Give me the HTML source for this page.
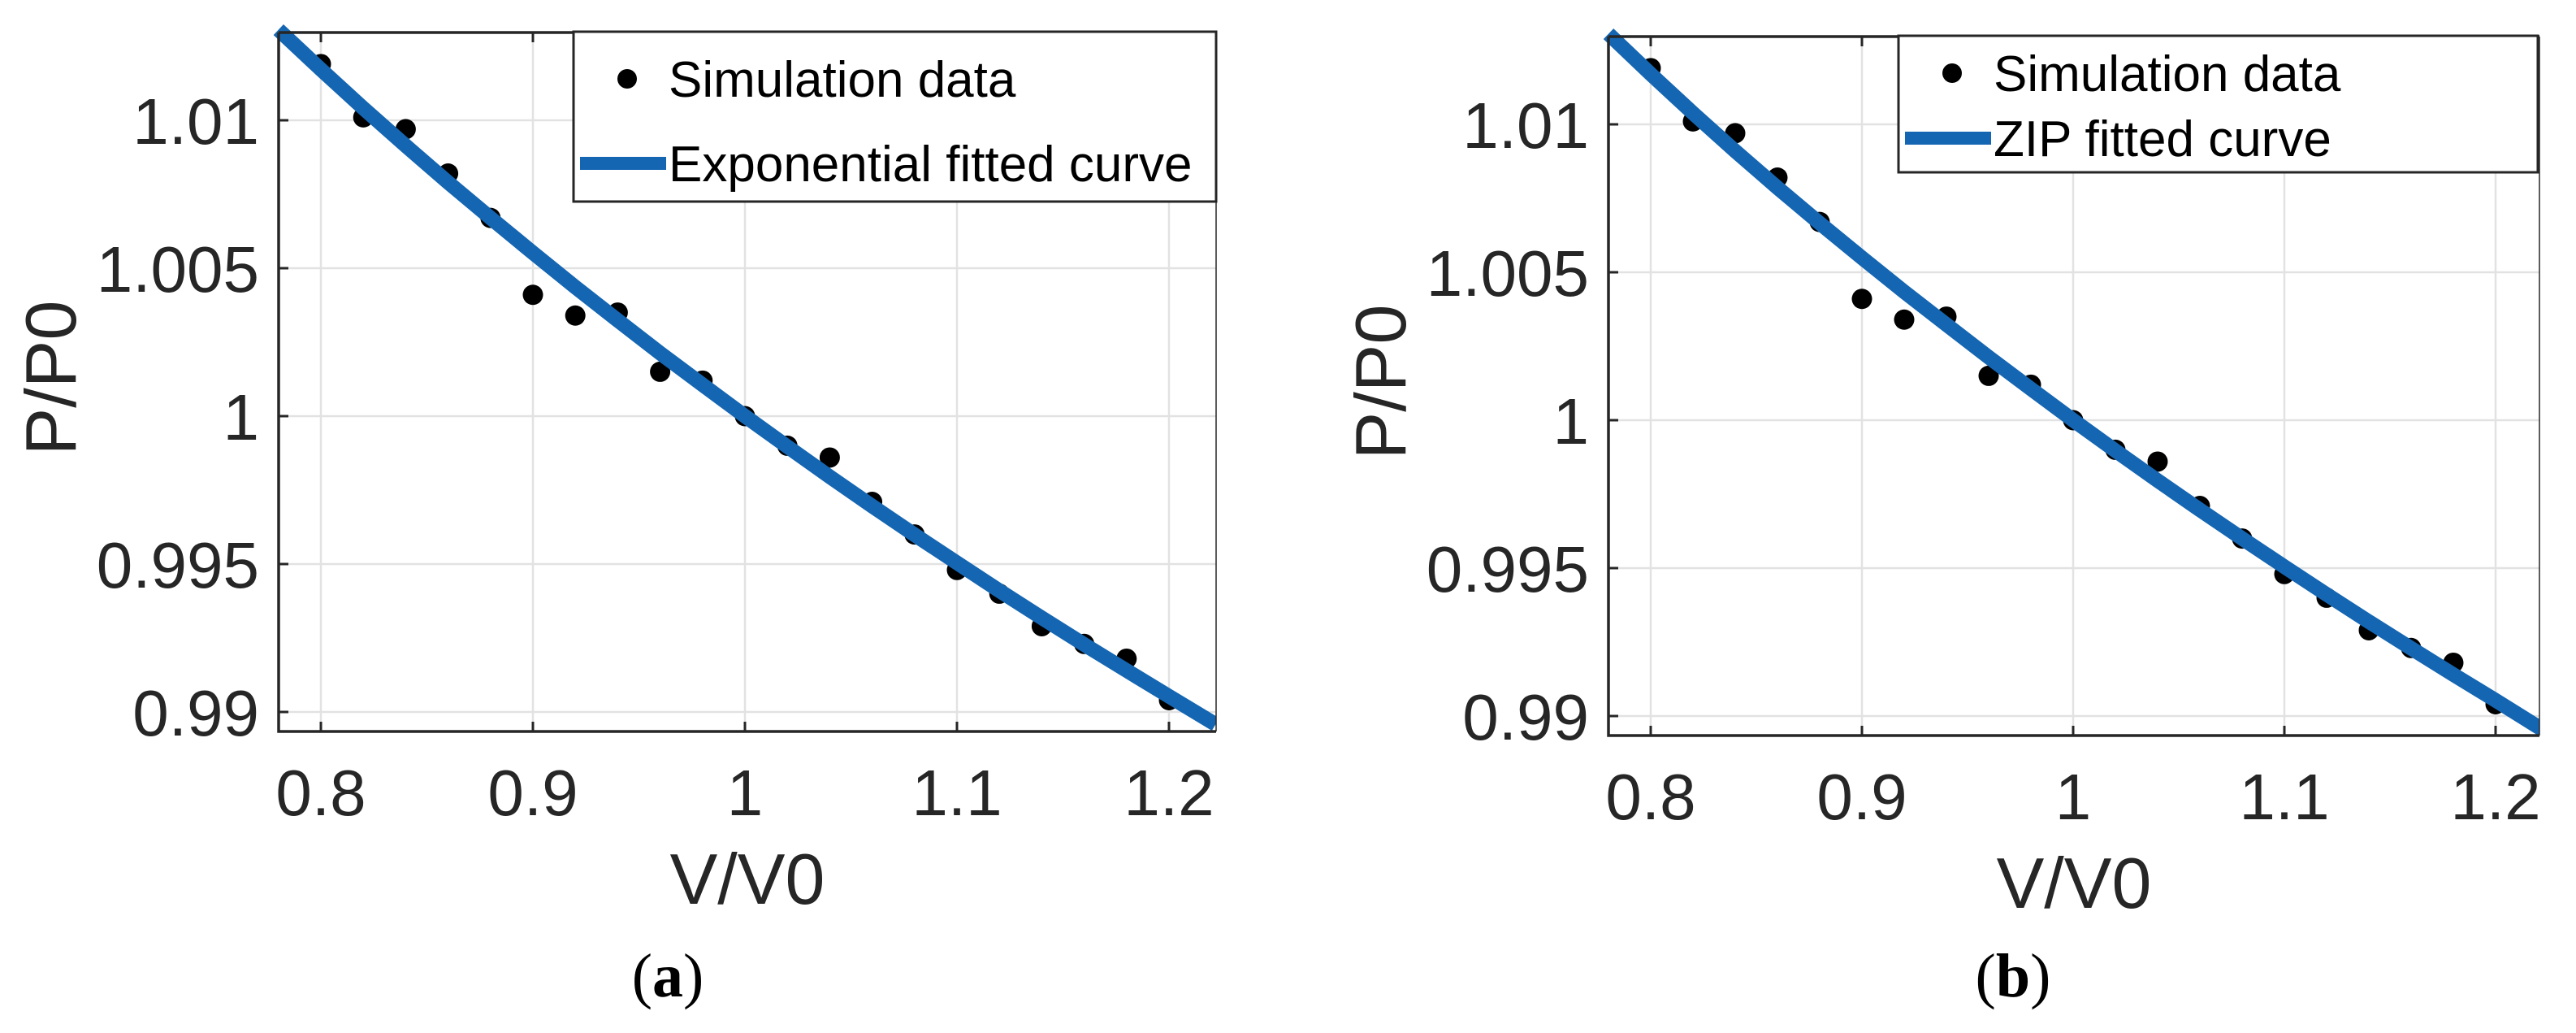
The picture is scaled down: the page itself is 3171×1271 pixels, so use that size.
<!DOCTYPE html>
<html><head><meta charset="utf-8"><style>
html,body{margin:0;padding:0;background:#fff;}
svg{display:block;}
</style></head><body>
<svg id="chart" width="3171" height="1271" viewBox="0 0 3171 1271" xmlns="http://www.w3.org/2000/svg" font-family="Liberation Sans, Arial, sans-serif"></svg>
<script>
const xTicks = [0.8, 0.9, 1, 1.1, 1.2];
const xTickLabels = ["0.8", "0.9", "1", "1.1", "1.2"];
const yTicks = [0.99, 0.995, 1, 1.005, 1.01];
const yTickLabels = ["0.99", "0.995", "1", "1.005", "1.01"];
const simV = [0.80,0.82,0.84,0.86,0.88,0.90,0.92,0.94,0.96,0.98,1.00,1.02,1.04,1.06,1.08,1.10,1.12,1.14,1.16,1.18,1.20];
const simP = [1.0119,1.0101,1.0097,1.0082,1.0067,1.0041,1.0034,1.0035,1.0015,1.0012,1.0000,0.9990,0.9986,0.9971,0.9960,0.9948,0.9940,0.9929,0.9923,0.9918,0.9904];
const fitV = [0.78,0.80,0.82,0.84,0.86,0.88,0.90,0.92,0.94,0.96,0.98,1.00,1.02,1.04,1.06,1.08,1.10,1.12,1.14,1.16,1.18,1.20,1.222];
const expP = [1.01306,1.01172,1.01041,1.00914,1.00790,1.00670,1.00552,1.00436,1.00324,1.00213,1.00106,1.0,0.99897,0.99795,0.99696,0.99599,0.99504,0.99410,0.99318,0.99228,0.99140,0.99053,0.98958];
const zipP = [1.01306,1.01170,1.01038,1.00910,1.00786,1.00666,1.00549,1.00434,1.00323,1.00213,1.00106,1.0,0.99897,0.99796,0.99697,0.99600,0.99505,0.99411,0.99319,0.99229,0.99140,0.99053,0.98955];

const NS = "http://www.w3.org/2000/svg";
const svg = document.getElementById('chart');
function mk(tag, attrs, parent) {
  const e = document.createElementNS(NS, tag);
  for (const k in attrs) e.setAttribute(k, attrs[k]);
  (parent || svg).appendChild(e);
  return e;
}

function panel(cfg) {
  const g = mk('g', {});
  
  
  const L = cfg.left, R = cfg.right, T = cfg.top, B = cfg.bottom;
  const x0px = cfg.x08, xs = cfg.xstep;
  const sx = v => x0px + (v - 0.8) / 0.1 * xs;
  const y1px = cfg.y1, ys = cfg.ystep;
  const sy = v => y1px - (v - 1) / 0.005 * ys;

  xTicks.forEach(t => {
    const l = mk('line', {x1: sx(t), x2: sx(t), y1: T, y2: B, stroke: '#e2e2e2', 'stroke-width': 2.5}, g);
    
    
  });
  yTicks.forEach(t => {
    const l = mk('line', {x1: L, x2: R, y1: sy(t), y2: sy(t), stroke: '#e2e2e2', 'stroke-width': 2.5}, g);
    
    
  });
  const cid = 'clip-' + cfg.name;
  const defs = mk('defs', {}, g);
  const cp = mk('clipPath', {id: cid}, defs);
  mk('rect', {x: L - 12, y: T - 12, width: R - L + 12, height: B - T + 12}, cp);

  let d = '';
  fitV.forEach((v, i) => { d += (i ? 'L' : 'M') + sx(v).toFixed(1) + ',' + sy(cfg.fit[i]).toFixed(1); });
  simV.forEach((v, i) => {
    const c = mk('circle', {cx: sx(v), cy: sy(simP[i]), r: 12.5, fill: '#000'}, g);
    
    
  });
  const path = mk('path', {d: d, fill: 'none', stroke: '#1566b2', 'stroke-width': 18, 'clip-path': 'url(#' + cid + ')'}, g);
  
  

  const ax = mk('path', {d: `M${L},${T}H${R}M${L},${T}V${B}H${R}`, fill: 'none', stroke: '#262626', 'stroke-width': 3.5}, g);
  
  
  mk('line', {x1: R, x2: R, y1: T, y2: B, stroke: '#262626', 'stroke-width': 1.5}, g);

  xTicks.forEach((t, i) => {
    mk('line', {x1: sx(t), x2: sx(t), y1: B, y2: B - 12, stroke: '#262626', 'stroke-width': 3}, g);
    mk('line', {x1: sx(t), x2: sx(t), y1: T, y2: T + 12, stroke: '#262626', 'stroke-width': 3}, g);
    const tx = mk('text', {x: sx(t), y: B + 103, 'font-size': 80, fill: '#262626', 'text-anchor': 'middle'}, g);
    tx.textContent = xTickLabels[i];
    
    
  });
  yTicks.forEach((t, i) => {
    mk('line', {x1: L, x2: L + 12, y1: sy(t), y2: sy(t), stroke: '#262626', 'stroke-width': 3}, g);
    const tx = mk('text', {x: L - 24, y: sy(t) + 29, 'font-size': 80, fill: '#262626', 'text-anchor': 'end'}, g);
    tx.textContent = yTickLabels[i];
    
    
  });
  const xt = mk('text', {x: (L + R) / 2, y: B + 212, 'font-size': 88, fill: '#262626', 'text-anchor': 'middle'}, g);
  xt.textContent = 'V/V0';
  
  
  const yx = L - 282, yy = (T + B) / 2 - 5;
  const yt = mk('text', {x: yx, y: yy, 'font-size': 88, fill: '#262626', 'text-anchor': 'middle', transform: `rotate(-90 ${yx} ${yy}) translate(0 32)`}, g);
  yt.textContent = 'P/P0';
  
  

  const lg = mk('g', {}, g);
  
  
  mk('rect', {x: cfg.legX, y: cfg.legY, width: cfg.legW, height: cfg.legH, fill: '#fff', stroke: '#262626', 'stroke-width': 3}, lg);
  const m = mk('circle', {cx: cfg.legX + 66, cy: cfg.legY + cfg.row1, r: 12, fill: '#000'}, lg);
  
  
  const t1 = mk('text', {x: cfg.legX + 117, y: cfg.legY + cfg.row1 + 22, 'font-size': 62, fill: '#000'}, lg);
  t1.textContent = 'Simulation data';
  
  
  const ll = mk('line', {x1: cfg.legX + 8, x2: cfg.legX + 114, y1: cfg.legY + cfg.row2, y2: cfg.legY + cfg.row2, stroke: '#1566b2', 'stroke-width': 16}, lg);
  
  
  const t2 = mk('text', {x: cfg.legX + 117, y: cfg.legY + cfg.row2 + 22, 'font-size': 62, fill: '#000'}, lg);
  t2.textContent = cfg.fitLabel;
  
  

  const cap = mk('text', {x: cfg.capX, y: 1226, 'font-size': 76, fill: '#000', 'text-anchor': 'middle', 'font-family': 'Liberation Serif, serif'}, g);
  cap.innerHTML = '(<tspan font-weight="bold">' + cfg.cap + '</tspan>)';
  
  
}

panel({name: 'panel-a-exponential', left: 343, right: 1497, top: 40, bottom: 900,
  x08: 395, xstep: 261, y1: 512, ystep: 182, fit: expP, fitLabel: 'Exponential fitted curve',
  legX: 706, legY: 39, legW: 791, legH: 209, row1: 58, row2: 162, cap: 'a', capX: 822});
panel({name: 'panel-b-zip', left: 1980, right: 3126, top: 45, bottom: 905,
  x08: 2032, xstep: 260, y1: 517, ystep: 182, fit: zipP, fitLabel: 'ZIP fitted curve',
  legX: 2337, legY: 44, legW: 787, legH: 168, row1: 46, row2: 126, cap: 'b', capX: 2478});
</script>
</body></html>
